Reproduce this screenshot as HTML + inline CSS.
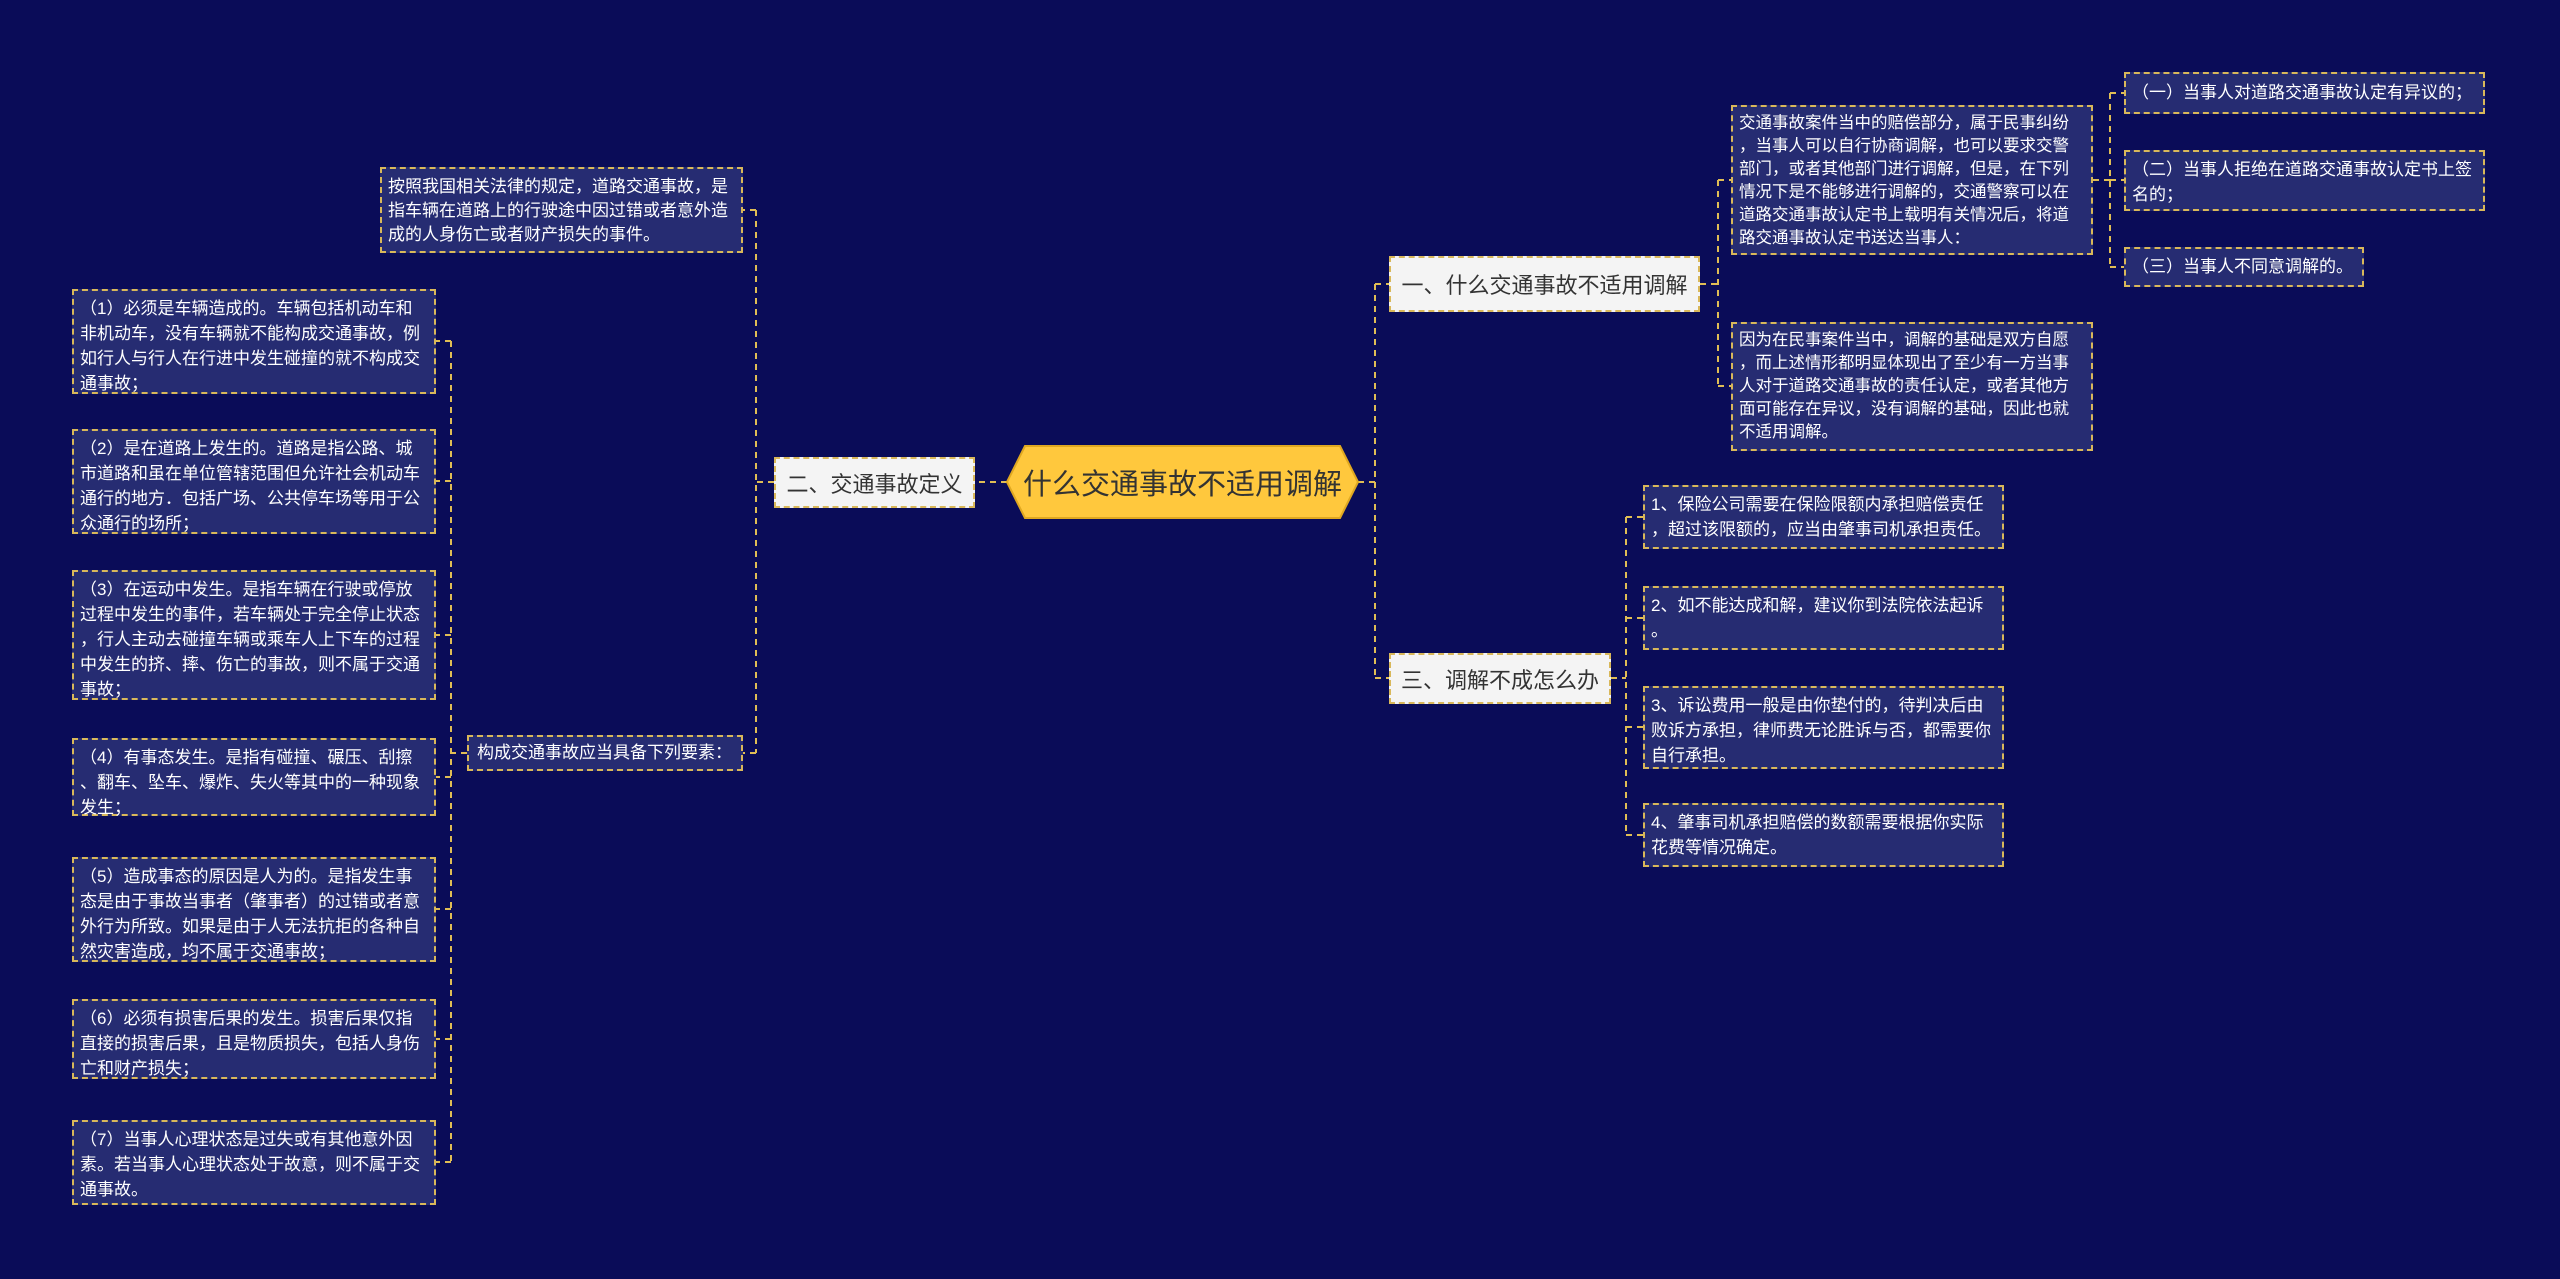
<!DOCTYPE html>
<html><head><meta charset="utf-8"><style>
body{margin:0;width:2560px;height:1279px;background:#0a0c58;position:relative;overflow:hidden;font-family:"Liberation Sans","Noto Sans CJK SC",sans-serif}
.b{position:absolute;box-sizing:border-box;background:#262c72;border:2px dashed #d9b85a;color:#fff;font-size:17px;line-height:25px;padding:5px 6px;word-break:break-all;line-break:anywhere}
.n{position:absolute;box-sizing:border-box;background:#f4f4f4;border:2px dashed #d9b85a;color:#333;font-size:22px;display:flex;align-items:center;justify-content:center;white-space:nowrap}
svg{position:absolute;left:0;top:0}
</style></head><body>
<svg width="2560" height="1279" fill="none" stroke="#e0bd55" stroke-width="2" stroke-dasharray="6,5">
<path d="M1358 482 H1375 M1375 284 V678 M1375 284 H1389 M1375 678 H1389"/>
<path d="M1007 482 H975"/>
<path d="M774 482 H756 M756 210 V753 M756 210 H743 M756 753 H743"/>
<path d="M467 753 H451 M451 341 V1162 M451 341 H436 M451 481 H436 M451 635 H436 M451 777 H436 M451 909 H436 M451 1039 H436 M451 1162 H436"/>
<path d="M1700 284 H1718 M1718 180 V386 M1718 180 H1731 M1718 386 H1731"/>
<path d="M2093 180 H2110 M2110 93 V267 M2110 93 H2124 M2110 180 H2124 M2110 267 H2124"/>
<path d="M1611 678 H1626 M1626 517 V835 M1626 517 H1643 M1626 618 H1643 M1626 727 H1643 M1626 835 H1643"/>
</svg>
<svg width="2560" height="1279"><polygon points="1025,446 1340,446 1358,482 1340,518 1025,518 1007,482" fill="#ffc83d" stroke="#e0a820" stroke-width="2"/></svg>
<div style="position:absolute;left:1007px;top:446px;width:351px;height:72px;display:flex;align-items:center;justify-content:center;font-size:29px;color:#333">什么交通事故不适用调解</div>

<div class="n" style="left:774px;top:457px;width:201px;height:51px">二、交通事故定义</div>
<div class="n" style="left:1389px;top:256px;width:311px;height:56px">一、什么交通事故不适用调解</div>
<div class="n" style="left:1389px;top:653px;width:222px;height:51px">三、调解不成怎么办</div>

<div class="b" style="left:380px;top:167px;width:363px;height:86px;line-height:24px;padding:6px 6px">按照我国相关法律的规定，道路交通事故，是指车辆在道路上的行驶途中因过错或者意外造成的人身伤亡或者财产损失的事件。</div>
<div class="b" style="left:467px;top:735px;width:276px;height:36px;line-height:24px;padding:4px 8px">构成交通事故应当具备下列要素：</div>

<div class="b" style="left:72px;top:289px;width:364px;height:105px">（1）必须是车辆造成的。车辆包括机动车和非机动车，没有车辆就不能构成交通事故，例如行人与行人在行进中发生碰撞的就不构成交通事故；</div>
<div class="b" style="left:72px;top:429px;width:364px;height:105px">（2）是在道路上发生的。道路是指公路、城市道路和虽在单位管辖范围但允许社会机动车通行的地方．包括广场、公共停车场等用于公众通行的场所；</div>
<div class="b" style="left:72px;top:570px;width:364px;height:130px">（3）在运动中发生。是指车辆在行驶或停放过程中发生的事件，若车辆处于完全停止状态，行人主动去碰撞车辆或乘车人上下车的过程中发生的挤、摔、伤亡的事故，则不属于交通事故；</div>
<div class="b" style="left:72px;top:738px;width:364px;height:78px">（4）有事态发生。是指有碰撞、碾压、刮擦、翻车、坠车、爆炸、失火等其中的一种现象发生；</div>
<div class="b" style="left:72px;top:857px;width:364px;height:105px">（5）造成事态的原因是人为的。是指发生事态是由于事故当事者（肇事者）的过错或者意外行为所致。如果是由于人无法抗拒的各种自然灾害造成，均不属于交通事故；</div>
<div class="b" style="left:72px;top:999px;width:364px;height:80px">（6）必须有损害后果的发生。损害后果仅指直接的损害后果，且是物质损失，包括人身伤亡和财产损失；</div>
<div class="b" style="left:72px;top:1120px;width:364px;height:85px">（7）当事人心理状态是过失或有其他意外因素。若当事人心理状态处于故意，则不属于交通事故。</div>

<div class="b" style="left:1731px;top:105px;width:362px;height:150px;line-height:23px;font-size:16.5px">交通事故案件当中的赔偿部分，属于民事纠纷，当事人可以自行协商调解，也可以要求交警部门，或者其他部门进行调解，但是，在下列情况下是不能够进行调解的，交通警察可以在道路交通事故认定书上载明有关情况后，将道路交通事故认定书送达当事人：</div>
<div class="b" style="left:1731px;top:322px;width:362px;height:129px;line-height:23px;font-size:16.5px">因为在民事案件当中，调解的基础是双方自愿，而上述情形都明显体现出了至少有一方当事人对于道路交通事故的责任认定，或者其他方面可能存在异议，没有调解的基础，因此也就不适用调解。</div>

<div class="b" style="left:2124px;top:72px;width:361px;height:42px;line-height:28px;white-space:nowrap">（一）当事人对道路交通事故认定有异议的；</div>
<div class="b" style="left:2124px;top:150px;width:361px;height:61px">（二）当事人拒绝在道路交通事故认定书上签名的；</div>
<div class="b" style="left:2124px;top:247px;width:240px;height:40px;line-height:26px;white-space:nowrap">（三）当事人不同意调解的。</div>

<div class="b" style="left:1643px;top:485px;width:361px;height:64px">1、保险公司需要在保险限额内承担赔偿责任，超过该限额的，应当由肇事司机承担责任。</div>
<div class="b" style="left:1643px;top:586px;width:361px;height:64px">2、如不能达成和解，建议你到法院依法起诉。</div>
<div class="b" style="left:1643px;top:686px;width:361px;height:83px">3、诉讼费用一般是由你垫付的，待判决后由败诉方承担，律师费无论胜诉与否，都需要你自行承担。</div>
<div class="b" style="left:1643px;top:803px;width:361px;height:64px">4、肇事司机承担赔偿的数额需要根据你实际花费等情况确定。</div>
</body></html>
